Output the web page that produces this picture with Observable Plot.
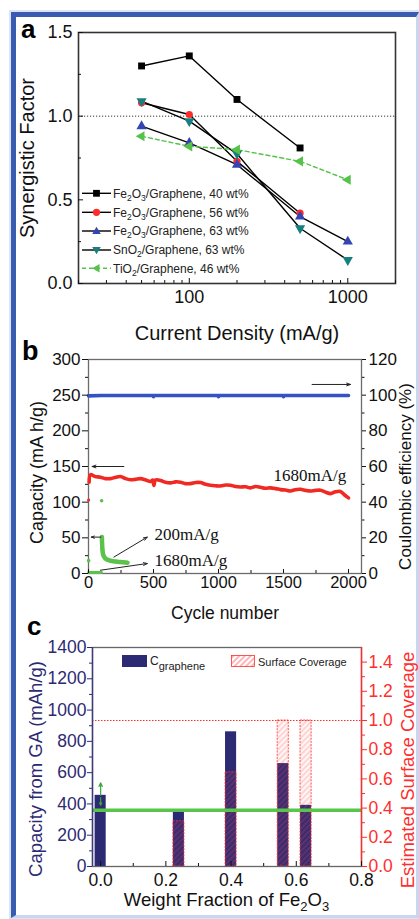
<!DOCTYPE html>
<html><head><meta charset="utf-8">
<script src="https://cdn.jsdelivr.net/npm/d3@7"></script>
<script src="https://cdn.jsdelivr.net/npm/@observablehq/plot@0.6"></script>
<style>
body{margin:0;background:#fff;}
#fig{position:relative;width:419px;height:919px;overflow:hidden;background:#fff;font-family:"Liberation Sans",Arial,sans-serif;}
.frameBox{position:absolute;left:11px;top:12px;width:400px;height:898px;border-left:5px solid #3a5cb0;border-top:5px solid #3a5cb0;border-right:3px solid #c9d6f2;border-bottom:3px solid #c9d6f2;box-shadow:0 0 0 2px #dbe4f7;}
.panel{position:absolute;left:0;}
.panel svg{overflow:visible;}
#overlay{position:absolute;left:0;top:0;pointer-events:none;}
</style>
</head><body>
<div id="fig">
  <div class="frameBox"></div>
  <div class="panel" id="pa" style="top:0px"></div>
  <div class="panel" id="pb" style="top:340px"></div>
  <div class="panel" id="pc" style="top:630px"></div>
</div>
<script>
// ---------------- Panel a data ----------------
const currents = [50, 100, 200, 500, 1000];
const fe40 = [1.30, 1.36, 1.10, 0.81, null];
const fe56 = [1.08, 1.01, 0.73, 0.42, null];
const fe63 = [0.94, 0.84, 0.71, 0.40, 0.25];
const sno2 = [1.09, 0.97, 0.775, 0.33, 0.14];
const tio2 = [0.88, 0.82, 0.80, 0.73, 0.62];
const legendA = ["Fe2O3/Graphene, 40 wt%", "Fe2O3/Graphene, 56 wt%", "Fe2O3/Graphene, 63 wt%", "SnO2/Graphene, 63 wt%", "TiO2/Graphene, 46 wt%"];
const yTicksA = [0, 0.5, 1.0, 1.5];
const yMinorA = [0.25, 0.75, 1.25];
const xTicksA = [100, 1000];
const xMinorA = [20, 30, 40, 50, 60, 70, 80, 90, 200, 300, 400, 500, 600, 700, 800, 900, 2000];

// ---------------- Panel b data ----------------
const effCycles = [1, 100, 250, 496, 500, 504, 750, 996, 1000, 1004, 1250, 1496, 1500, 1504, 1750, 2000];
const effValues = [99.6, 99.8, 99.8, 99.8, 99.2, 99.8, 99.8, 99.8, 99.2, 99.8, 99.8, 99.8, 99.2, 99.8, 99.8, 99.8];
const capCycles = [5, 15, 50, 92, 130, 169, 210, 246, 285, 323, 360, 400, 440, 477, 495, 503, 515, 554, 590, 631, 670, 708, 745, 785, 825, 862, 900, 938, 975, 1015, 1055, 1092, 1130, 1169, 1210, 1246, 1285, 1323, 1360, 1400, 1440, 1477, 1515, 1554, 1590, 1631, 1670, 1708, 1745, 1785, 1825, 1862, 1900, 1938, 1970, 2000];
const capValues = [128, 138.5, 136, 135, 133, 133, 135, 136, 133, 131.5, 132, 133, 131, 129, 131, 123.5, 131, 130.5, 128, 127, 128.5, 128, 126, 126, 127.5, 127.5, 125, 123.7, 123, 122.7, 124, 123.7, 122, 121.3, 121.5, 120, 122, 121, 119.5, 120, 119, 117.6, 117, 115.7, 117.5, 118, 116.5, 115.7, 116.5, 116.7, 114, 112, 114.5, 115, 110, 106];
const capFirst = [{c: 1, v: 103}];
const grLowCycles = [2, 20, 40, 60, 80, 100];
const grLowValues = [1.5, 1.5, 1.5, 1.5, 1.5, 1.5];
const grCycles = [1, 101, 103, 104, 105, 106, 107, 108, 110, 112, 115, 118, 122, 126, 130, 136, 142, 150, 160, 170, 180, 195, 210, 225, 240, 255, 270, 285, 300];
const grValues = [18, 102, 51, 45, 41, 37, 34, 31.5, 29, 27, 25.5, 24, 23, 22, 21, 20.3, 19.6, 19, 18.4, 17.9, 17.5, 17, 16.7, 16.4, 16.1, 15.9, 15.7, 15.4, 15.2];
const yTicksB = [0, 50, 100, 150, 200, 250, 300];
const yMinorB = [25, 75, 125, 175, 225, 275];
const effTicks = [0, 20, 40, 60, 80, 100, 120];
const effMinor = [10, 30, 50, 70, 90, 110];
const xTicksB = [0, 500, 1000, 1500, 2000];
const xMinorB = [250, 750, 1250, 1750];
const effToCap = 300 / 120;
const arrowsB = [
  {x1: 272, y1: 150, x2: 28, y2: 150},
  {x1: 1720, y1: 265, x2: 2015, y2: 265},
  {x1: 195, y1: 23, x2: 452, y2: 51},
  {x1: 92, y1: 4.6, x2: 452, y2: 14},
  {x1: 95, y1: 51, x2: 22, y2: 51}
];
const notesB = [
  {x: 1423, y: 137.7, text: "1680mA/g"},
  {x: 508, y: 55, text: "200mA/g"},
  {x: 508, y: 18.6, text: "1680mA/g"}
];

// ---------------- Panel c data ----------------
const fractions = [0, 0.24, 0.40, 0.56, 0.63];
const cGraphene = [455, 352, 861, 658, 391];
const coverage = [null, 0.31, 0.645, 1.0, 1.0];
const gaCapacity = 360;
const errArrowsC = [{x: 0, y1: 455, y2: 535}, {x: 0, y1: 440, y2: 392}];
const yTicksC = [0, 200, 400, 600, 800, 1000, 1200, 1400];
const yMinorC = [100, 300, 500, 700, 900, 1100, 1300];
const covTicks = [0, 0.2, 0.4, 0.6, 0.8, 1.0, 1.2, 1.4];
const covMinor = [0.1, 0.3, 0.5, 0.7, 0.9, 1.1, 1.3];
const xTicksC = [0, 0.2, 0.4, 0.6, 0.8];
const xMinorC = [0.1, 0.3, 0.5, 0.7];
const covToCap = 1400 / 1.5;

const FONT = "Liberation Sans, Arial, sans-serif";
const SERIF = "Liberation Serif, Times New Roman, serif";
const NAVY = "#2d2a74";
const RED = "#ff2e2e";
const GREEN = "#57c64a";
const plain = d => String(d);

// ================= Panel a =================
const specA = [
  {vals: fe40, marker: "#000", line: "#000", symbol: "square", rot: 0, r: 3.9, dash: null},
  {vals: fe56, marker: "#ff2b2b", line: "#000", symbol: "circle", rot: 0, r: 3.6, dash: null},
  {vals: fe63, marker: "#3344b5", line: "#000", symbol: "triangle", rot: 0, r: 3.8, dash: null},
  {vals: sno2, marker: "#15807f", line: "#000", symbol: "triangle", rot: 180, r: 3.8, dash: null},
  {vals: tio2, marker: "#56c24a", line: "#56c24a", symbol: "triangle", rot: -90, r: 3.8, dash: "4,3"}
];
const marksA = [];
specA.forEach((s) => {
  const rows = currents.map((c, j) => ({c, v: s.vals[j]})).filter(d => d.v != null);
  marksA.push(Plot.line(rows, {x: "c", y: "v", stroke: s.line, strokeWidth: 1.4, strokeDasharray: s.dash}));
});
specA.forEach((s) => {
  const rows = currents.map((c, j) => ({c, v: s.vals[j]})).filter(d => d.v != null);
  marksA.push(Plot.dot(rows, {x: "c", y: "v", fill: s.marker, symbol: s.symbol, r: s.r, rotate: s.rot, stroke: "none"}));
});
const plotA = Plot.plot({
  width: 419, height: 345,
  marginLeft: 78, marginRight: 24, marginTop: 32, marginBottom: 62,
  style: {fontFamily: FONT, background: "transparent", color: "#111"},
  x: {type: "log", domain: [20, 2000], label: null},
  y: {domain: [0, 1.5], label: null},
  marks: [
    Plot.ruleY([1], {stroke: "#333", strokeWidth: 1, strokeDasharray: "1.2,1.8"}),
    ...marksA,
    Plot.frame({stroke: "#333", strokeWidth: 1.6}),
    Plot.axisY(yTicksA, {tickSize: 0, tickPadding: 6, fontSize: 18, tickFormat: d3.format(".1f")}),
    Plot.axisY(yTicksA, {tickSize: -5, text: null}),
    Plot.axisY(yMinorA, {tickSize: -3, text: null}),
    Plot.axisX(xTicksA, {tickSize: 0, tickPadding: 7, fontSize: 18, tickFormat: plain}),
    Plot.axisX(xTicksA, {tickSize: -5, text: null}),
    Plot.axisX(xMinorA, {tickSize: -3, text: null}),
    Plot.text(["Synergistic Factor"], {frameAnchor: "left", rotate: -90, textAnchor: "middle", lineAnchor: "middle", dx: -51, fontSize: 20}),
    Plot.text(["Current Density (mA/g)"], {frameAnchor: "bottom", lineAnchor: "middle", dy: 50, fontSize: 20})
  ]
});
document.getElementById("pa").appendChild(plotA);

// ================= Panel b =================
const effRows = effCycles.map((c, i) => ({c, v: effValues[i] * effToCap}));
const capRows = capCycles.map((c, i) => ({c, v: capValues[i]}));
const grLowRows = grLowCycles.map((c, i) => ({c, v: grLowValues[i]}));
const grRows = grCycles.map((c, i) => ({c, v: grValues[i]}));
const grTail = grRows.filter(d => d.c >= 103);
const plotB = Plot.plot({
  width: 419, height: 290,
  marginLeft: 88, marginRight: 58, marginTop: 19, marginBottom: 57,
  style: {fontFamily: FONT, background: "transparent", color: "#111"},
  x: {domain: [0, 2100], label: null},
  y: {domain: [0, 300], label: null},
  marks: [
    Plot.frame({stroke: "#6b6b6b", strokeWidth: 1.3}),
    Plot.line(effRows, {x: "c", y: "v", stroke: "#3552c2", strokeWidth: 3.6}),
    Plot.line(capRows, {x: "c", y: "v", stroke: "#f02a22", strokeWidth: 3.6, curve: "catmull-rom"}),
    Plot.dot(capFirst, {x: "c", y: "v", fill: "#f02a22", r: 1.6}),
    Plot.line(grLowRows, {x: "c", y: "v", stroke: "#5cc24c", strokeWidth: 3}),
    Plot.line(grTail, {x: "c", y: "v", stroke: "#5cc24c", strokeWidth: 4.5, curve: "monotone-x"}),
    Plot.dot(grRows, {x: "c", y: "v", fill: "#5cc24c", r: 1.8}),
    Plot.arrow(arrowsB, {x1: "x1", y1: "y1", x2: "x2", y2: "y2", stroke: "#222", strokeWidth: 1, headLength: 6, headAngle: 40}),
    Plot.text(notesB, {x: "x", y: "y", text: "text", textAnchor: "start", lineAnchor: "middle", fontFamily: SERIF, fontSize: 17, fill: "#111"}),
    Plot.axisY(yTicksB, {tickSize: 6, tickPadding: 2, fontSize: 17, tickFormat: plain}),
    Plot.axisY(yMinorB, {tickSize: 3, text: null}),
    Plot.axisY(effTicks.map(v => v * effToCap), {anchor: "right", tickSize: 4, tickPadding: 3, fontSize: 17, tickFormat: d => String(Math.round(d / effToCap))}),
    Plot.axisY(effMinor.map(v => v * effToCap), {anchor: "right", tickSize: 2.5, text: null}),
    Plot.axisX(xTicksB, {tickSize: 0, tickPadding: 3, fontSize: 16.5, tickFormat: plain}),
    Plot.axisX(xTicksB, {tickSize: -4, text: null}),
    Plot.axisX(xMinorB, {tickSize: -3, text: null}),
    Plot.text(["Capacity (mA h/g)"], {frameAnchor: "left", rotate: -90, textAnchor: "middle", lineAnchor: "middle", dx: -51, dy: 6, fontSize: 18}),
    Plot.text(["Coulombic efficiency (%)"], {frameAnchor: "right", rotate: -90, textAnchor: "middle", lineAnchor: "middle", dx: 44, dy: 10, fontSize: 17}),
    Plot.text(["Cycle number"], {frameAnchor: "bottom", lineAnchor: "middle", dy: 40, fontSize: 17.5})
  ]
});
document.getElementById("pb").appendChild(plotB);

// ================= Panel c =================
const barRows = fractions.map((f, i) => ({f, v: cGraphene[i]}));
const covRows = fractions.map((f, i) => ({f, v: coverage[i]})).filter(d => d.v != null);
const halfW = 0.017;
const plotC = Plot.plot({
  width: 419, height: 289,
  marginLeft: 92, marginRight: 58, marginTop: 17, marginBottom: 53,
  style: {fontFamily: FONT, background: "transparent", color: "#111"},
  x: {domain: [-0.025, 0.8], label: null},
  y: {domain: [0, 1400], label: null},
  marks: [
    Plot.ruleY([1.0 * covToCap], {stroke: RED, strokeWidth: 1, strokeDasharray: "1.5,1.5"}),
    Plot.rectY(barRows, {x1: d => d.f - halfW, x2: d => d.f + halfW, y1: 0, y2: "v", fill: NAVY}),
    Plot.rectY(covRows, {x1: d => d.f - halfW, x2: d => d.f + halfW, y1: 0, y2: d => d.v * covToCap, fill: "url(#hatchC)", stroke: RED, strokeWidth: 1, strokeOpacity: 0.8, strokeDasharray: "2,1.2"}),
    Plot.ruleY([gaCapacity], {stroke: GREEN, strokeWidth: 3.6}),
    Plot.arrow(errArrowsC, {x: "x", y1: "y1", y2: "y2", stroke: "#3aa83a", strokeWidth: 1.2, headLength: 5, headAngle: 50}),
    Plot.frame({stroke: "#666", strokeWidth: 1.3}),
    Plot.ruleX([-0.025], {stroke: "#3d3a80", strokeWidth: 1.4}),
    Plot.ruleX([0.8], {stroke: RED, strokeWidth: 1.4}),
    Plot.axisY(yTicksC, {tickSize: 5, tickPadding: 1, fontSize: 17.5, color: NAVY, stroke: NAVY, tickFormat: plain}),
    Plot.axisY(yMinorC, {tickSize: 3, text: null, stroke: NAVY}),
    Plot.axisY(covTicks.map(v => v * covToCap), {anchor: "right", tickSize: 5, tickPadding: 2, fontSize: 17.5, color: RED, stroke: RED, tickFormat: d => (d / covToCap).toFixed(1)}),
    Plot.axisY(covMinor.map(v => v * covToCap), {anchor: "right", tickSize: 3, text: null, stroke: RED}),
    Plot.axisX(xTicksC, {tickSize: 0, tickPadding: 7, fontSize: 17.5, tickFormat: d3.format(".1f")}),
    Plot.axisX(xTicksC, {tickSize: -5, text: null}),
    Plot.axisX(xMinorC, {tickSize: -3, text: null}),
    Plot.text(["Capacity from GA (mAh/g)"], {frameAnchor: "left", rotate: -90, textAnchor: "middle", lineAnchor: "middle", dx: -56, dy: 12, fontSize: 18.5, fill: NAVY}),
    Plot.text(["Estimated Surface Coverage"], {frameAnchor: "right", rotate: -90, textAnchor: "middle", lineAnchor: "middle", dx: 47, dy: 13, fontSize: 18.5, fill: RED})
  ]
});
const defsC = document.createElementNS("http://www.w3.org/2000/svg", "defs");
defsC.innerHTML = '<pattern id="hatchC" patternUnits="userSpaceOnUse" width="4" height="4" patternTransform="rotate(45)"><rect width="4" height="4" fill="rgba(255,80,80,0.05)"/><line x1="1" y1="0" x2="1" y2="4" stroke="#ff4a4a" stroke-opacity="0.38" stroke-width="1"/></pattern>';
plotC.prepend(defsC);
document.getElementById("pc").appendChild(plotC);

// ================= Overlay (panel letters, legends, subscripted titles) =================
const subify = (s, fs, sh) => s.replace(/([A-Za-z])(\d)/g, (m, a, d) => `${a}<tspan font-size="${fs}" baseline-shift="-${sh}">${d}</tspan>`);
const legendRowsY = [193.3, 212.3, 231, 250, 268.3];
let ov = `<svg id="overlay" width="419" height="919" xmlns="http://www.w3.org/2000/svg" font-family="${FONT}">`;
ov += `<defs><pattern id="hatchL" patternUnits="userSpaceOnUse" width="4" height="4" patternTransform="rotate(45)"><line x1="1" y1="0" x2="1" y2="4" stroke="#ff4040" stroke-opacity="0.7" stroke-width="1.1"/></pattern></defs>`;
ov += `<text x="21" y="38" font-size="26" font-weight="bold">a</text>`;
ov += `<text x="22" y="360" font-size="27" font-weight="bold">b</text>`;
ov += `<text x="27" y="635" font-size="26" font-weight="bold">c</text>`;
legendA.forEach((lab, i) => {
  const s = specA[i], y = legendRowsY[i], mx = 96.5;
  ov += `<line x1="82" x2="111" y1="${y}" y2="${y}" stroke="${s.line}" stroke-width="1.4" ${s.dash ? `stroke-dasharray="${s.dash}"` : ""}/>`;
  if (s.symbol === "square") ov += `<rect x="${mx - 3.4}" y="${y - 3.4}" width="6.8" height="6.8" fill="${s.marker}"/>`;
  else if (s.symbol === "circle") ov += `<circle cx="${mx}" cy="${y}" r="3.6" fill="${s.marker}"/>`;
  else {
    const h = 4.3;
    let pts;
    if (s.rot === 0) pts = [[mx, y - h], [mx + h, y + h * 0.7], [mx - h, y + h * 0.7]];
    else if (s.rot === 180) pts = [[mx, y + h], [mx + h, y - h * 0.7], [mx - h, y - h * 0.7]];
    else pts = [[mx - h, y], [mx + h * 0.7, y - h], [mx + h * 0.7, y + h]];
    ov += `<polygon points="${pts.map(p => p.join(",")).join(" ")}" fill="${s.marker}"/>`;
  }
  ov += `<text x="113" y="${y + 4.3}" font-size="12" fill="#222">${subify(lab, 8.5, 3)}</text>`;
});
// panel c legend
ov += `<rect x="122" y="655" width="25" height="12" fill="${NAVY}"/>`;
ov += `<text x="150" y="665" font-size="12" fill="#222">C<tspan font-size="11" baseline-shift="-5">graphene</tspan></text>`;
ov += `<rect x="231.5" y="655.5" width="23" height="11" fill="url(#hatchL)" stroke="${RED}" stroke-width="0.8"/>`;
ov += `<text x="258" y="665.5" font-size="11" fill="#222">Surface Coverage</text>`;
ov += `<text x="226.5" y="906" font-size="18.5" text-anchor="middle" fill="#111">${subify("Weight Fraction of Fe2O3", 13, 5)}</text>`;
ov += `</svg>`;
document.getElementById("fig").insertAdjacentHTML("beforeend", ov);
</script>
</body></html>
